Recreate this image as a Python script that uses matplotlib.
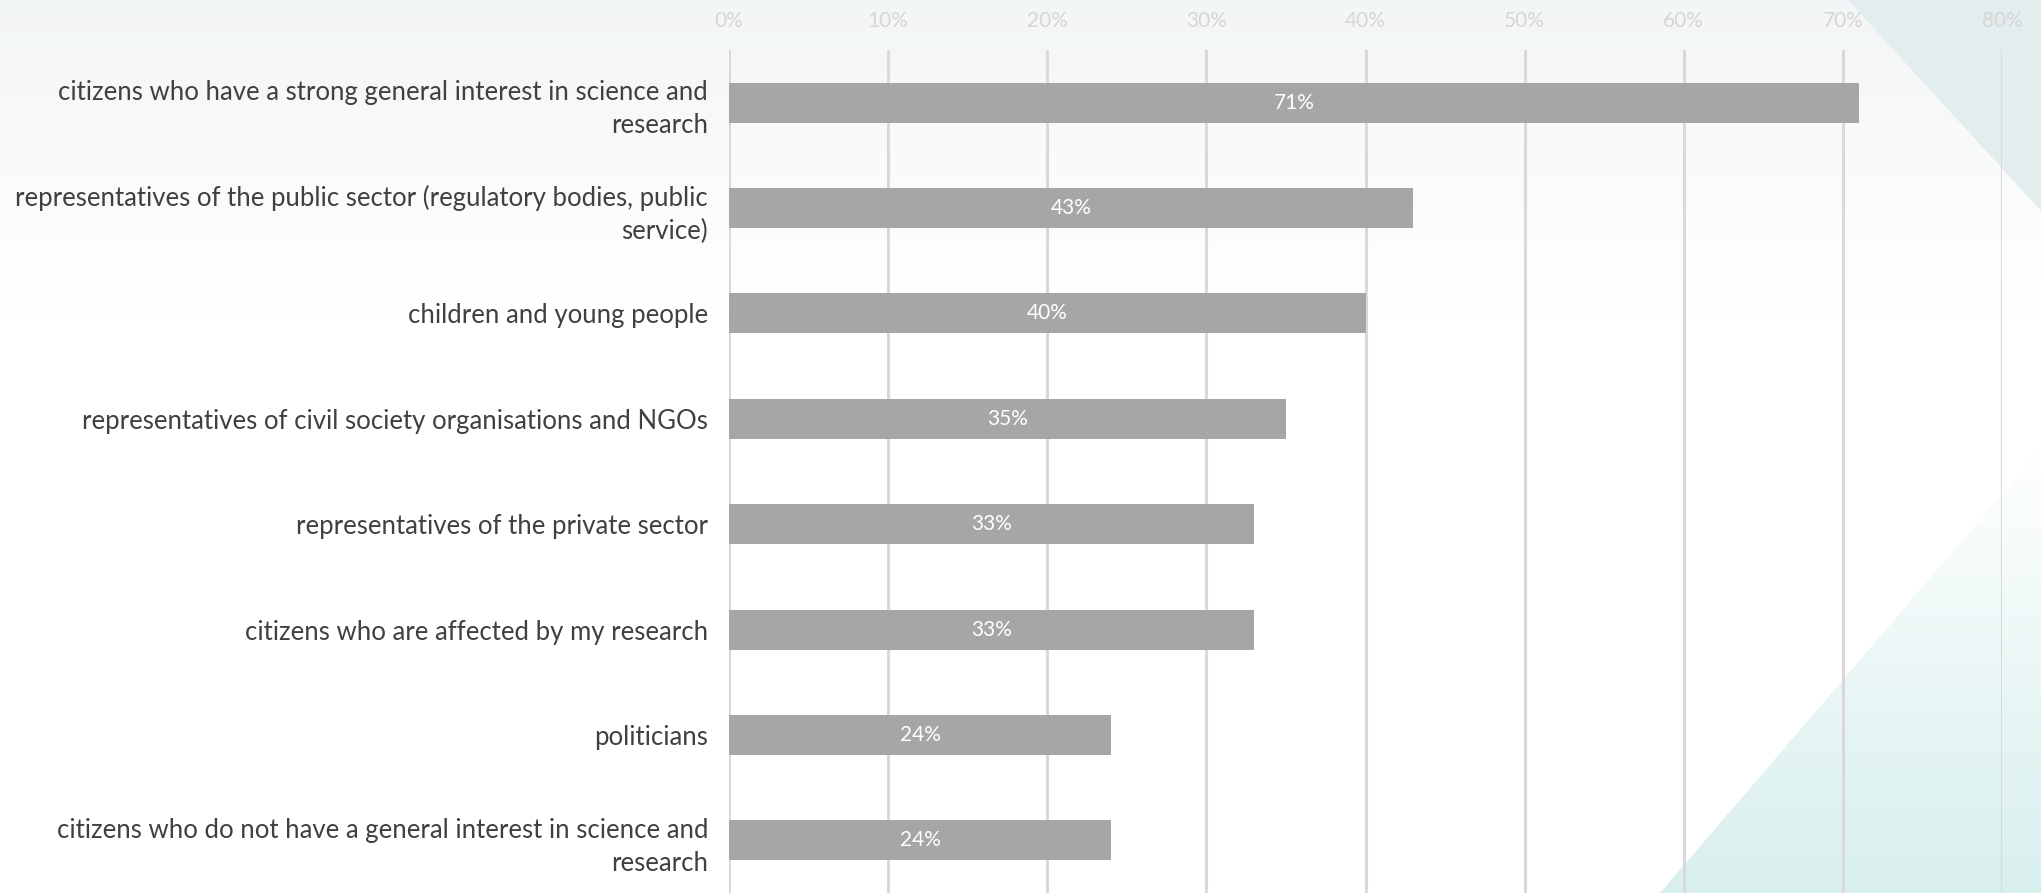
import numpy as np
import matplotlib
matplotlib.use("Agg")
import matplotlib.pyplot as plt
from matplotlib.patches import Polygon

plt.rcParams['font.family'] = ['Lato', 'DejaVu Sans']

# data
categories = [
    "citizens who have a strong general interest in science and\nresearch",
    "representatives of the public sector (regulatory bodies, public\nservice)",
    "children and young people",
    "representatives of civil society organisations and NGOs",
    "representatives of the private sector",
    "citizens who are affected by my research",
    "politicians",
    "citizens who do not have a general interest in science and\nresearch",
]
values = [71, 43, 40, 35, 33, 33, 24, 24]
ticks = [0, 10, 20, 30, 40, 50, 60, 70, 80]
tick_labels = [f"{t}%" for t in ticks]

W, H = 2041, 893
fig = plt.figure(figsize=(W / 100, H / 100), dpi=100)

# background: faint grey wash at the top, teal triangles on the right
bg = fig.add_axes([0, 0, 1, 1], zorder=-10)
bg.axis("off")
grad = np.linspace(0, 1, 256).reshape(-1, 1)
top_col = np.array([0.955, 0.965, 0.965])
img = top_col + (1 - top_col) * np.clip(grad / 0.35, 0, 1)[..., None]
img = np.repeat(img, 2, axis=1)
bg.imshow(img, extent=[0, W, H, 0], aspect="auto", zorder=0)

tri_top = Polygon([[1848, 0], [W, 0], [W, 211]], closed=True,
                  facecolor="#e3eded", edgecolor="none", zorder=1)
bg.add_patch(tri_top)

tri_bot = Polygon([[1660, H], [W, H], [W, 449]], closed=True,
                  facecolor="none", edgecolor="none", zorder=1)
bg.add_patch(tri_bot)
g2 = np.linspace(1, 0, 256).reshape(-1, 1)
teal = np.array([0.85, 0.94, 0.935])
img2 = teal + (1 - teal) * (g2 ** 1.1)[..., None]
img2 = np.repeat(img2, 2, axis=1)
im2 = bg.imshow(img2, extent=[1660, W, H, 449], aspect="auto", zorder=1)
im2.set_clip_path(tri_bot)
bg.set_xlim(0, W)
bg.set_ylim(H, 0)

# main chart
ax = fig.add_axes([729 / W, 0, (2002 - 729) / W, 1 - 50 / H])
ax.patch.set_alpha(0)
y = np.arange(len(categories))
ax.barh(y, values, height=0.38, color="#a6a6a6", zorder=3)
for yi, v in zip(y, values):
    ax.text(v / 2, yi, f"{v}%", ha="center", va="center",
            color="white", fontsize=15, zorder=4)

ax.set_xlim(0, 80)
ax.set_ylim(len(categories) - 0.5, -0.5)
ax.set_xticks(ticks)
ax.set_xticklabels(tick_labels)
ax.xaxis.tick_top()
ax.tick_params(axis="x", length=0, pad=14, labelsize=15, labelcolor="#d6d6d6")
ax.grid(axis="x", color="#d9d9d9", linewidth=2.2, zorder=0)
ax.set_yticks(y)
ax.set_yticklabels(categories, fontsize=18.5, color="#404040",
                   linespacing=1.4, ha="right")
ax.tick_params(axis="y", length=0, pad=15)
for s in ax.spines.values():
    s.set_visible(False)

fig.savefig("out.png", dpi=100)
